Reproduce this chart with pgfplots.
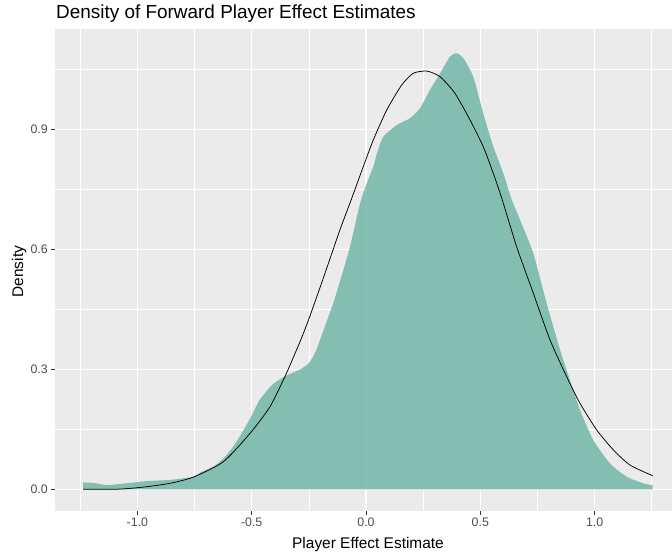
\documentclass[border=0pt]{standalone}
\usepackage{pgfplots}
\pgfplotsset{compat=1.18}
\usepackage{fontspec}
\setmainfont{Liberation Sans}
\definecolor{panelbg}{RGB}{235,235,235}
\definecolor{fillc}{RGB}{114,183,166}
\definecolor{labgray}{RGB}{77,77,77}
\definecolor{tickgray}{RGB}{51,51,51}
\begin{document}
\begin{tikzpicture}
\useasboundingbox (0,0) rectangle (672bp,554bp);
\begin{axis}[
  scale only axis, width=617bp, height=481.7bp,
  at={(55bp,43bp)}, anchor=south west,
  xmin=-1.3604, xmax=1.3386, ymin=-0.05375, ymax=1.1505,
  axis background/.style={fill=panelbg},
  axis line style={draw=none},
  xtick={-1,-0.5,0,0.5,1}, ytick={0,0.3,0.6,0.9},
  xticklabels={-1.0,-0.5,0.0,0.5,1.0}, yticklabels={0.0,0.3,0.6,0.9},
  minor xtick={-1.25,-0.75,-0.25,0.25,0.75,1.25},
  minor ytick={0.15,0.45,0.75,1.05},
  grid=both,
  major grid style={white, line width=1.1bp},
  minor grid style={white, line width=0.55bp},
  tick align=outside, major tick length=3.8bp, minor tick length=0pt,
  xtick pos=bottom, ytick pos=left,
  tick style={draw=tickgray, line width=0.8bp},
  /pgf/number format/assume math mode=true,
  tick label style={font=\fontsize{12.4}{14}\selectfont, text=labgray},
  clip=true,
]
\addplot[fill=fillc, fill opacity=0.85, draw=none, smooth, tension=0.4] table {
x y
-1.237 0.018
-1.178 0.0155
-1.134 0.011
-1.047 0.0155
-0.959 0.021
-0.857 0.024
-0.755 0.032
-0.726 0.042
-0.66 0.06
-0.62 0.08
-0.58 0.108
-0.537 0.147
-0.50 0.185
-0.464 0.225
-0.406 0.264
-0.347 0.285
-0.289 0.300
-0.25 0.316
-0.22 0.345
-0.187 0.397
-0.143 0.466
-0.099 0.549
-0.07 0.607
-0.026 0.715
0.003 0.765
0.032 0.807
0.05 0.845
0.076 0.882
0.134 0.911
0.192 0.928
0.236 0.953
0.28 0.999
0.324 1.040
0.367 1.082
0.397 1.0905
0.426 1.078
0.469 1.032
0.513 0.940
0.557 0.857
0.601 0.790
0.637 0.725
0.674 0.674
0.732 0.59
0.79 0.466
0.849 0.349
0.892 0.274
0.936 0.199
0.994 0.124
1.067 0.0655
1.14 0.032
1.213 0.0155
1.254 0.011
} \closedcycle;
\addplot[black, line width=0.75bp, smooth, tension=0.4] table {
x y
-1.237 0.0005
-1.076 0.001
-0.959 0.007
-0.857 0.0155
-0.755 0.031
-0.624 0.0695
-0.507 0.1405
-0.42 0.207
-0.354 0.283
-0.318 0.330
-0.281 0.380
-0.245 0.434
-0.187 0.528
-0.114 0.649
-0.063 0.727
-0.012 0.807
0.032 0.874
0.091 0.949
0.156 1.011
0.207 1.0405
0.266 1.046
0.324 1.032
0.389 0.9905
0.455 0.924
0.513 0.857
0.557 0.79
0.594 0.728
0.659 0.607
0.732 0.4905
0.805 0.374
0.878 0.282
0.936 0.2155
1.009 0.149
1.082 0.099
1.155 0.061
1.254 0.0345
};
\end{axis}
\node[font=\fontsize{19}{22}\selectfont, anchor=base west, inner sep=0pt] at (56bp,535.7bp) {Density of Forward Player Effect Estimates};
\node[font=\fontsize{15.5}{18}\selectfont, rotate=90, anchor=base, inner sep=0pt] at (23bp,282.3bp) {Density};
\node[font=\fontsize{15.5}{18}\selectfont, anchor=base, inner sep=0pt] at (368bp,5.5bp) {Player Effect Estimate};
\end{tikzpicture}
\end{document}
